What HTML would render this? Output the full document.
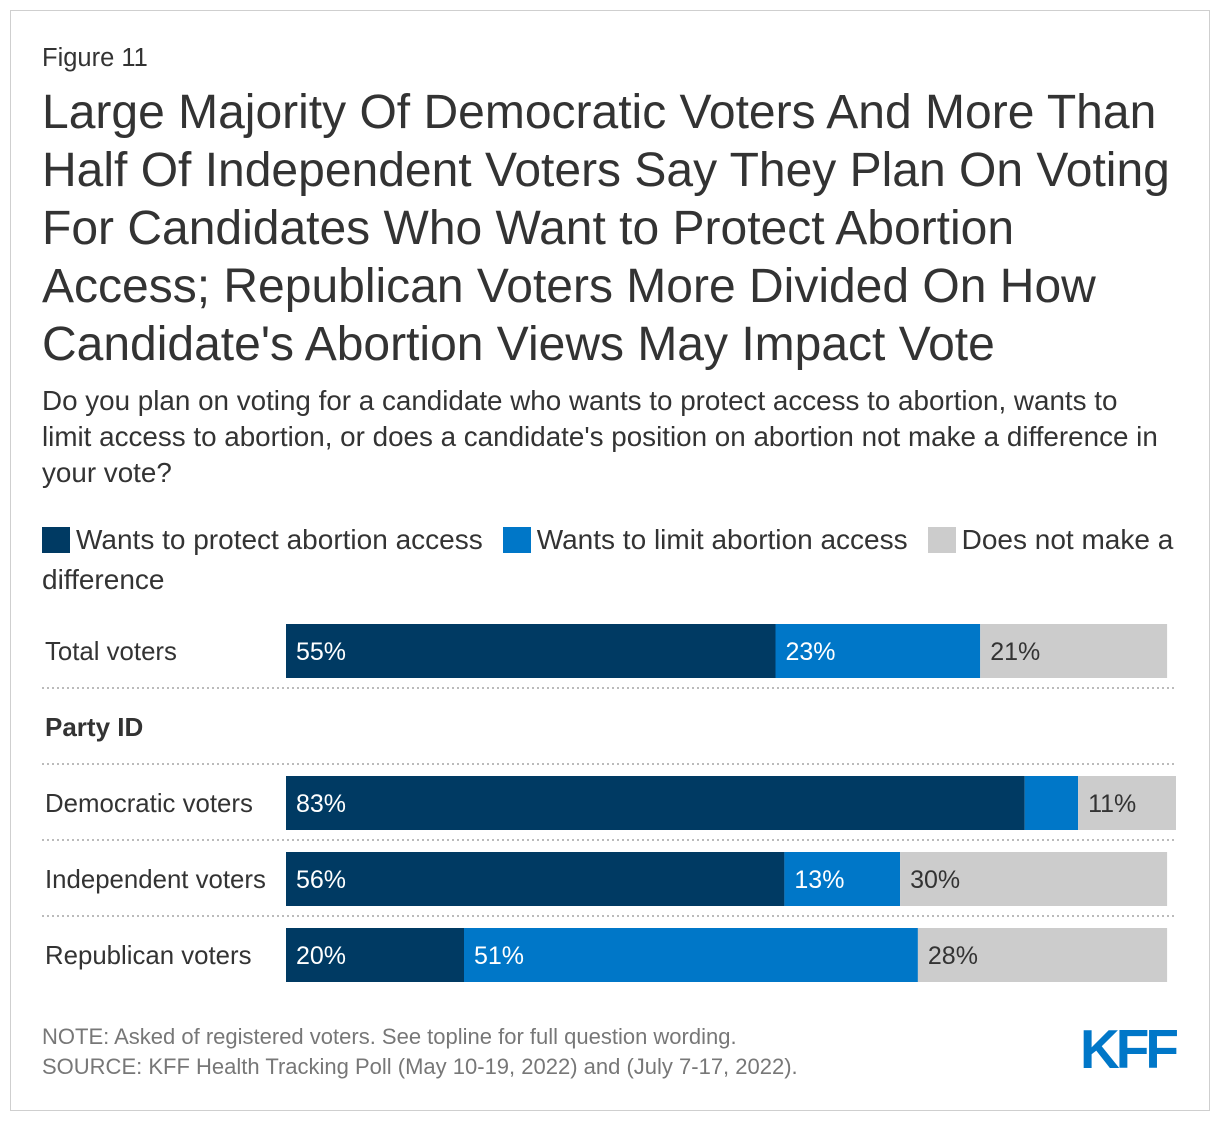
<!DOCTYPE html>
<html><head><meta charset="utf-8"><style>
body{margin:0;background:#fff;font-family:"Liberation Sans",Arial,sans-serif;}
#frame{position:absolute;left:10px;top:10px;width:1198px;height:1099px;border:1px solid #cfcfcf;}
.t{position:absolute;color:#333;white-space:nowrap;}
</style></head><body>
<div id="frame"></div>
<div class="t" style="left:42px;top:44px;font-size:25.5px;">Figure 11</div>
<div class="t" style="left:42px;top:84px;font-size:48px;line-height:58px;color:#333;">Large Majority Of Democratic Voters And More Than<br>Half Of Independent Voters Say They Plan On Voting<br>For Candidates Who Want to Protect Abortion<br>Access; Republican Voters More Divided On How<br>Candidate's Abortion Views May Impact Vote</div>
<div class="t" style="left:42px;top:383px;font-size:27.8px;line-height:36px;">Do you plan on voting for a candidate who wants to protect access to abortion, wants to<br>limit access to abortion, or does a candidate's position on abortion not make a difference in<br>your vote?</div>
<div class="t" style="left:42px;top:520px;font-size:28px;line-height:40px;">
<span><span style="display:inline-block;width:28px;height:26px;background:#003a63;vertical-align:-4px;margin-right:6px"></span>Wants to protect abortion access</span><span style="margin-left:20px"><span style="display:inline-block;width:28px;height:26px;background:#0077c8;vertical-align:-4px;margin-right:6px"></span>Wants to limit abortion access</span><span style="margin-left:20px"><span style="display:inline-block;width:28px;height:26px;background:#cccccc;vertical-align:-4px;margin-right:6px"></span>Does not make a<br>difference</span>
</div>
<svg id="chart" width="1220" height="1124" style="position:absolute;left:0;top:0"></svg>
<div class="t" style="left:42px;top:1022px;font-size:22px;line-height:30px;color:#777;">NOTE: Asked of registered voters. See topline for full question wording.<br>SOURCE: KFF Health Tracking Poll (May 10-19, 2022) and (July 7-17, 2022).</div>
<div class="t" style="left:1080px;top:1017px;font-size:55px;font-weight:bold;color:#0077c8;letter-spacing:-4px;">KFF</div>
<script>
const categories=["Total voters","Democratic voters","Independent voters","Republican voters"];
const protect=[55,83,56,20];
const limit=[23,6,13,51];
const noDiff=[21,11,30,28];
const labelsShown=[[true,true,true],[true,false,true],[true,true,true],[true,true,true]];
const rowY=[624,776,852,928];
const NS="http://www.w3.org/2000/svg";
const svg=document.getElementById('chart');
const x0=286,pxPer=8.9,bh=54;
const xs=v=>v*pxPer;
function mk(t,a){const e=document.createElementNS(NS,t);for(const k in a)e.setAttribute(k,a[k]);svg.appendChild(e);return e;}
[688,764,840,916].forEach((y,i)=>{const l=mk('line',{x1:42,x2:1176,y1:y,y2:y,stroke:'#bbb','stroke-width':2,'stroke-dasharray':'2,3'});

});
const ph=mk('text',{x:45,y:736,'font-size':26,'font-weight':'bold',fill:'#333','font-family':'Liberation Sans'});
ph.textContent='Party ID';


const series=[protect,limit,noDiff],cols=['#003a63','#0077c8','#cccccc'],txt=['#fff','#fff','#333'],sn=['protect','limit','no-difference'];
categories.forEach((c,i)=>{
  const y=rowY[i];
  const lt=mk('text',{x:45,y:y+36,'font-size':25.8,fill:'#333','font-family':'Liberation Sans'});
  lt.textContent=c;
  
  
  let x=x0;
  series.forEach((s,j)=>{
    const w=xs(s[i]);
    const r=mk('rect',{x:x,y:y,width:w,height:bh,fill:cols[j]});
    
    
    if(labelsShown[i][j]){
      const t=mk('text',{x:x+10,y:y+36,'font-size':25,fill:txt[j],'font-family':'Liberation Sans'});
      t.textContent=s[i]+'%';
      
      
    }
    x+=w;
  });
});
</script>
</body></html>
